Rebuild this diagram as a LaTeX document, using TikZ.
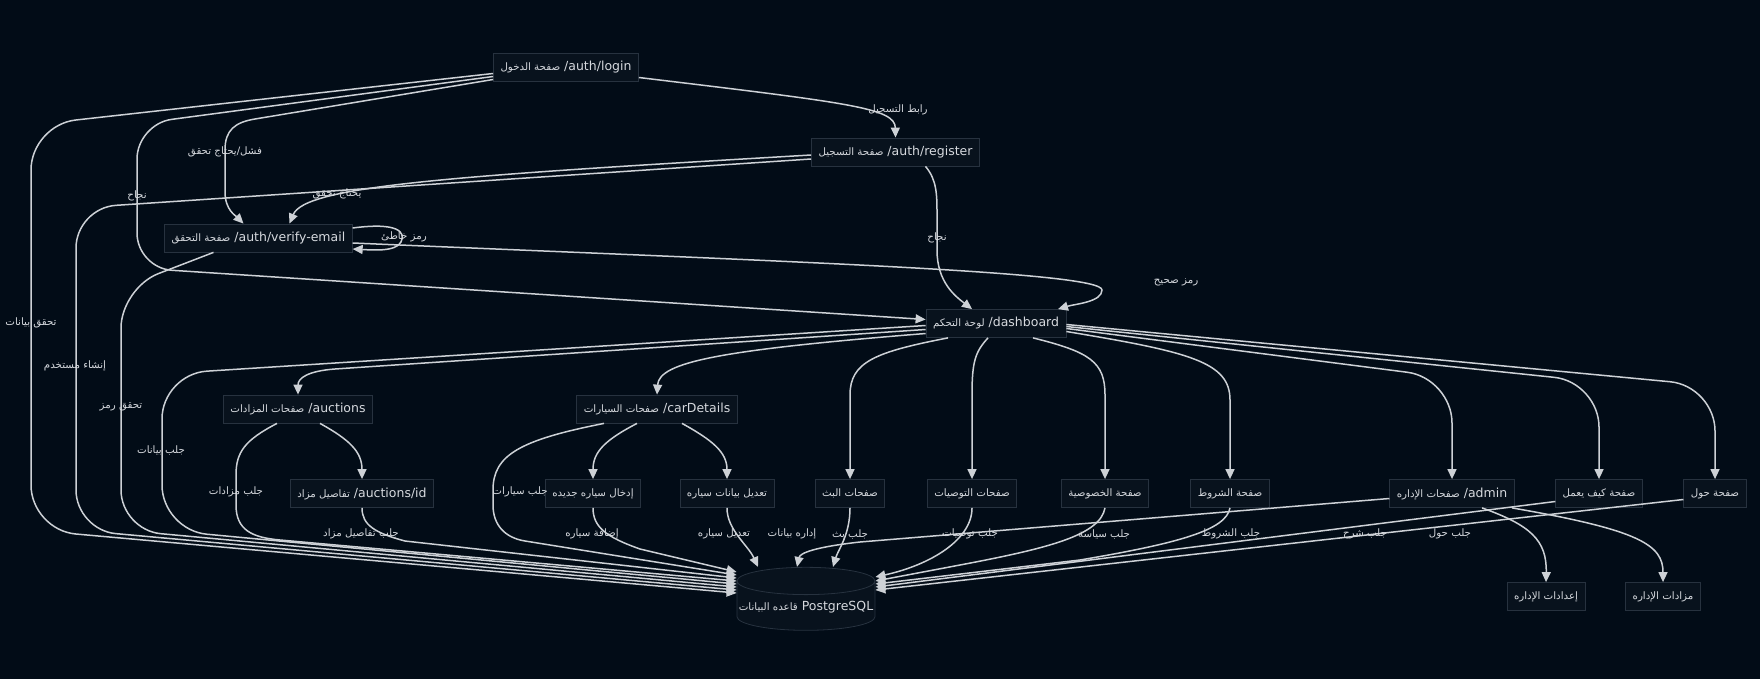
\documentclass[tikz,border=0pt]{standalone}
\usepackage{fontspec}
\setmainfont{DejaVu Sans}
\newfontfamily\arabicfont[Script=Arabic, Scale=0.82]{DejaVu Sans}
\TeXXeTstate=1
\usepackage{tikz}
\usetikzlibrary{arrows.meta, shapes.geometric, positioning}
\definecolor{bgc}{HTML}{020C17}
\definecolor{nodefill}{HTML}{08121D}
\definecolor{nodeline}{HTML}{27323F}
\definecolor{linkc}{HTML}{CDD1D6}
\definecolor{txtc}{HTML}{D6D9DE}
\newcommand{\artxt}[1]{{\arabicfont\beginR #1\endR}}

\begin{document}
\begin{tikzpicture}[x=1pt, y=-1pt,
    page/.style={draw=nodeline, fill=nodefill, line width=0.8pt, text=txtc,
      inner xsep=7pt, inner ysep=4pt, minimum height=28pt,
      font=\fontsize{12.5}{15}\selectfont},
    store/.style={page, cylinder, shape border rotate=90, aspect=0.2,
      inner xsep=1pt, minimum width=138pt, minimum height=63pt},
    link/.style={draw=linkc, line width=1.5pt, -{Triangle[length=10pt,width=9pt]}},
    lbl/.style={text=txtc, inner sep=1pt, font=\fontsize{12.5}{15}\selectfont}]

    % Background and page size
    \useasboundingbox (0,0) rectangle (1760,679);
    \fill[bgc] (0,0) rectangle (1760,679);

    % Auth pages
    \node[page] (login) at (566,67.5) {\artxt{صفحة الدخول} /auth/login};
    \node[page] (register) at (895.5,152) {\artxt{صفحة التسجيل} /auth/register};
    \node[page] (verify) at (258.5,238) {\artxt{صفحة التحقق} /auth/verify-email};
    \node[page] (dash) at (996,323.5) {\artxt{لوحة التحكم} /dashboard};

    % Second row
    \node[page] (auctions) at (298,409) {\artxt{صفحات المزادات} /auctions};
    \node[page] (cars) at (657,409) {\artxt{صفحات السيارات} /carDetails};

    % Third row
    \node[page] (auctionid) at (362,493.5) {\artxt{تفاصيل مزاد} /auctions/id};
    \node[page] (addcar) at (593,493.5) {\artxt{إدخال سياره جديده}};
    \node[page] (editcar) at (727,493.5) {\artxt{تعديل بيانات سياره}};
    \node[page] (live) at (850,493.5) {\artxt{صفحات البث}};
    \node[page] (recs) at (972,493.5) {\artxt{صفحات التوصيات}};
    \node[page] (privacy) at (1105,493.5) {\artxt{صفحة الخصوصية}};
    \node[page] (terms) at (1230,493.5) {\artxt{صفحة الشروط}};
    \node[page] (admin) at (1452,493.5) {\artxt{صفحات الإداره} /admin};
    \node[page] (howto) at (1599,493.5) {\artxt{صفحة كيف يعمل}};
    \node[page] (about) at (1715,493.5) {\artxt{صفحة حول}};

    % Database and admin children
    \node[store] (db) at (806,607) {\artxt{قاعده البيانات} PostgreSQL};
    \node[page] (adminset) at (1546,596.5) {\artxt{إعدادات الإداره}};
    \node[page] (adminauc) at (1663,596.5) {\artxt{مزادات الإداره}};

    % Login links
    \draw[link] ([yshift=-10pt]login.east) .. controls (850,103) and (895,108) .. (register.north);
    \draw[link] ([yshift=-12pt]login.west) -- (255,119) .. controls (235,122.3) and (225,130) .. (225,150)
        -- (225,192) .. controls (225,210) and (236,216) .. ([xshift=-15pt]verify.north);
    \draw[link, rounded corners=35pt] ([yshift=-9pt]login.west) -- (137,124) -- (137,268) -- ([yshift=4pt]dash.west);
    \draw[link, rounded corners=45pt] ([yshift=-6pt]login.west) -- (31,125) -- (31,530) -- ([yshift=14pt]db.west);

    % Register links
    \draw[link] ([yshift=-3pt]register.west) .. controls (450,176) and (305,186) .. ([xshift=31pt]verify.north);
    \draw[link] ([xshift=30pt]register.south) .. controls (937,180) and (937,195) .. (937,215) -- (937,250)
        .. controls (937,282) and (955,296) .. ([xshift=-24pt]dash.north);
    \draw[link, rounded corners=40pt] ([yshift=-7pt]register.west) -- (76,208) -- (76,530) -- ([yshift=17pt]db.west);

    % Verify links
    \draw[link] ([yshift=10pt]verify.east) .. controls (398,222) and (406,232) .. (401,242)
        .. controls (396,252) and (372,250) .. ([yshift=-11pt]verify.east);
    \draw[link] ([yshift=-5pt]verify.east) .. controls (800,262) and (1102,272) .. (1102,290)
        .. controls (1102,302) and (1075,304) .. ([xshift=62pt]dash.north);
    \draw[link, rounded corners=40pt] ([xshift=-45pt]verify.south) -- (121,288) -- (121,530) -- ([yshift=20pt]db.west);

    % Dashboard links
    \draw[link, rounded corners=45pt] ([yshift=-2pt]dash.west) -- (162,374) -- (162,530) -- ([yshift=23pt]db.west);
    \draw[link] ([yshift=-6pt]dash.west) -- (335,369) .. controls (308,371) and (298,378) .. (auctions.north);
    \draw[link] ([yshift=-10pt]dash.west) .. controls (720,350) and (659,362) .. (cars.north);
    \draw[link] ([xshift=-48pt]dash.south) .. controls (875,352) and (850,362) .. (850,395) -- (live.north);
    \draw[link] ([xshift=-8pt]dash.south) .. controls (975,352) and (972,362) .. (972,395) -- (recs.north);
    \draw[link] ([xshift=37pt]dash.south) .. controls (1090,352) and (1105,362) .. (1105,395) -- (privacy.north);
    \draw[link] ([yshift=-8pt]dash.east) .. controls (1190,352) and (1230,362) .. (1230,400) -- (terms.north);
    \draw[link, rounded corners=45pt] ([yshift=-5pt]dash.east) -- (1452,378) -- (admin.north);
    \draw[link, rounded corners=45pt] ([yshift=-3pt]dash.east) -- (1599,382) -- (howto.north);
    \draw[link, rounded corners=45pt] ([yshift=-1pt]dash.east) -- (1715,386) -- (about.north);

    % Auctions and cars
    \draw[link] ([xshift=22pt]auctions.south) .. controls (350,440) and (362,452) .. (auctionid.north);
    \draw[link] ([xshift=-21pt]auctions.south) .. controls (245,440) and (236,452) .. (236,475) -- (236,505)
        .. controls (236,530) and (252,537.5) .. (280,540) -- ([yshift=26pt]db.west);
    \draw[link] (auctionid.south) .. controls (362,525) and (375,533) .. (405,541) -- ([yshift=29pt]db.west);
    \draw[link] ([xshift=-20pt]cars.south) .. controls (605,440) and (593,452) .. (addcar.north);
    \draw[link] ([xshift=25pt]cars.south) .. controls (712,440) and (727,452) .. (editcar.north);
    \draw[link] ([xshift=-53pt]cars.south) .. controls (520,440) and (493,455) .. (493,490) -- (493,505)
        .. controls (493,525) and (505,537.8) .. (525,541) -- ([yshift=32pt]db.west);
    \draw[link] (addcar.south) .. controls (593,527) and (606,537) .. (640,549) -- ([yshift=35pt]db.west);
    \draw[link] (editcar.south) .. controls (727,530) and (748,545) .. ([xshift=-48pt]db.north);

    % Remaining pages into the database
    \draw[link] ([yshift=-5pt]admin.west) -- (860,542) .. controls (815,547) and (800,553) .. ([xshift=-9pt]db.north);
    \draw[link] (live.south) .. controls (850,535) and (838,550) .. ([xshift=27pt]db.north);
    \draw[link] (recs.south) .. controls (972,540) and (930,565) .. ([yshift=30pt]db.east);
    \draw[link] (privacy.south) .. controls (1100,535) and (1050,548) .. (960,565) -- ([yshift=26pt]db.east);
    \draw[link] (terms.south) .. controls (1226,530) and (1180,543) .. (1080,560) -- ([yshift=23pt]db.east);
    \draw[link] ([yshift=-8pt]howto.west) -- ([yshift=20pt]db.east);
    \draw[link] ([yshift=-6pt]about.west) -- ([yshift=17pt]db.east);
    \draw[link] ([xshift=30pt]admin.south) .. controls (1530,525) and (1547,540) .. (adminset.north);
    \draw[link] ([xshift=60pt]admin.south) .. controls (1640,530) and (1663,545) .. (adminauc.north);

    % Link labels
    \node[lbl] (lbl-reglink) at (898,110) {\artxt{رابط التسجيل}};
    \node[lbl] (lbl-fail) at (225,152) {\artxt{فشل/يحتاج تحقق}};
    \node[lbl] (lbl-needv) at (337,194) {\artxt{يحتاج تحقق}};
    \node[lbl] (lbl-ok1) at (137,196) {\artxt{نجاح}};
    \node[lbl] (lbl-bad) at (404,237) {\artxt{رمز خاطئ}};
    \node[lbl] (lbl-ok2) at (937,238) {\artxt{نجاح}};
    \node[lbl] (lbl-good) at (1176,282) {\artxt{رمز صحيح}};
    \node[lbl] (lbl-chkdata) at (31,323) {\artxt{تحقق بيانات}};
    \node[lbl] (lbl-newuser) at (75,366) {\artxt{إنشاء مستخدم}};
    \node[lbl] (lbl-chkcode) at (121,407) {\artxt{تحقق رمز}};
    \node[lbl] (lbl-getdata) at (161,450) {\artxt{جلب بيانات}};
    \node[lbl] (lbl-getauc) at (236,492) {\artxt{جلب مزادات}};
    \node[lbl] (lbl-getcars) at (520,492) {\artxt{جلب سيارات}};
    \foreach \n/\x/\t in {auid/361/جلب تفاصيل مزاد, add/592/إضافة سياره, edit/724/تعديل سياره,
        manage/792/إداره بيانات, live/850/جلب بث, recs/970/جلب توصيات, policy/1104/جلب سياسة,
        terms/1231/جلب الشروط, how/1365/جلب شرح, about/1450/جلب حول}
        \node[lbl] (lbl-\n) at (\x,534) {\artxt{\t}};

\end{tikzpicture}
\end{document}
